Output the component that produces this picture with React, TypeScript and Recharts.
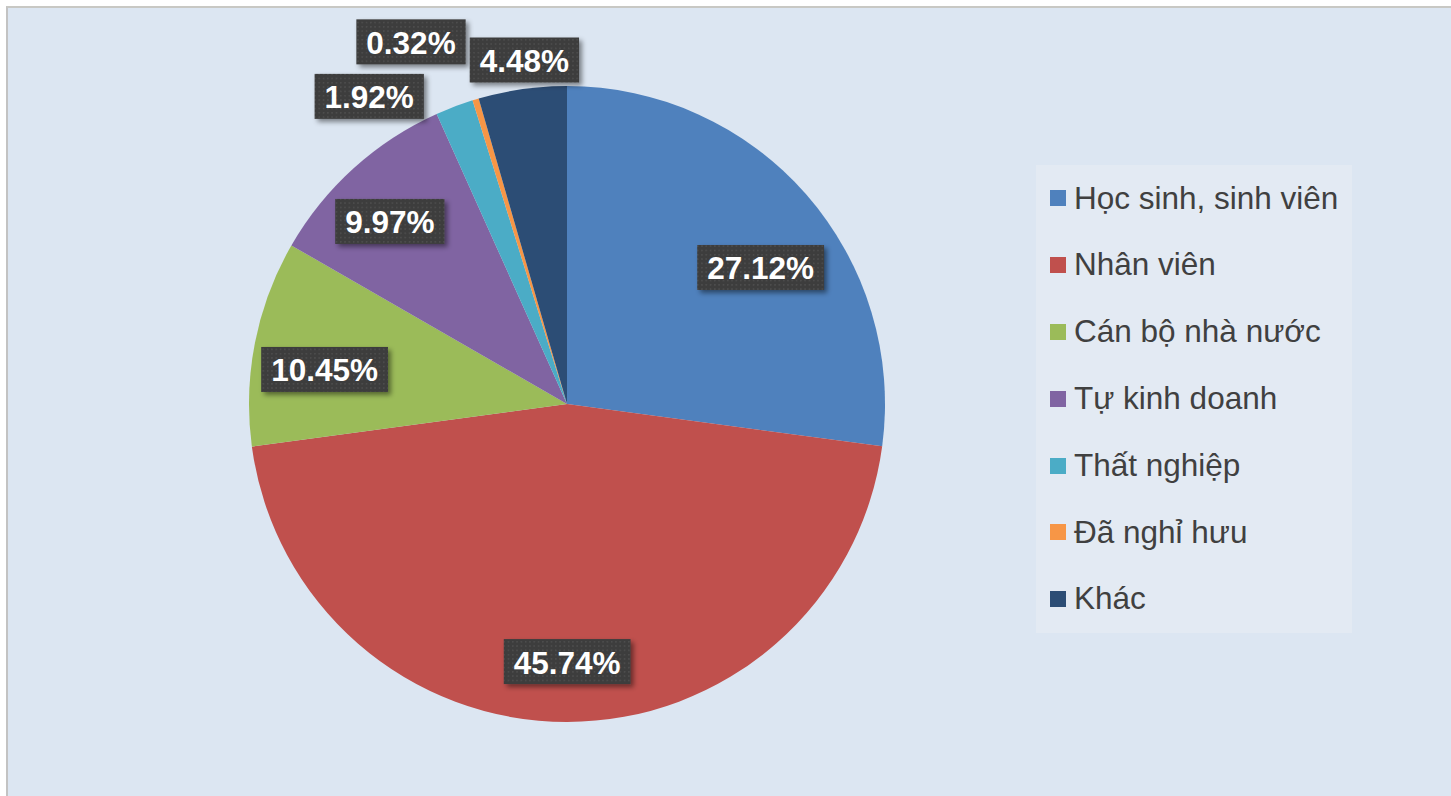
import { Cell, Legend, Pie, PieChart } from "recharts";

const categories = [
  "Học sinh, sinh viên",
  "Nhân viên",
  "Cán bộ nhà nước",
  "Tự kinh doanh",
  "Thất nghiệp",
  "Đã nghỉ hưu",
  "Khác",
];
const shares = [27.12, 45.74, 10.45, 9.97, 1.92, 0.32, 4.48];
const colors = ["#4f81bd", "#c0504d", "#9bbb59", "#8064a2", "#4bacc6", "#f79646", "#2c4d75"];

// label placement, relative to each slice's mid angle (clockwise degrees) and the pie radius
const labelShift = [6, 0, -3, -2, -12, -6.6, 1];
const labelRadius = [0.745, 0.81, 0.77, 0.8, 1.15, 1.24, 1.09];

const data = categories.map((name, i) => ({ name, value: shares[i] }));

const RAD = Math.PI / 180;
const FONT = "Arial, 'Liberation Sans', sans-serif";
const LABEL_SIZE = 31.5;

function textWidth(s: string) {
  let w = 0;
  for (const ch of s) {
    if (ch === ".") w += 0.278;
    else if (ch === "%") w += 0.889;
    else w += 0.556;
  }
  return w * LABEL_SIZE;
}

function renderLabel(props: any) {
  const { cx, cy, midAngle, outerRadius, index, value } = props;
  const clock = 90 - midAngle + labelShift[index];
  const r = outerRadius * labelRadius[index];
  const x = cx + r * Math.sin(clock * RAD);
  const y = cy - r * Math.cos(clock * RAD);
  const text = `${Number(value).toFixed(2)}%`;
  const w = textWidth(text) + 20;
  const h = 45;
  return (
    <g key={`lbl-${index}`}>
      <rect
        x={x - w / 2}
        y={y - h / 2}
        width={w}
        height={h}
        fill="url(#dotFill)"
        filter="url(#lblShadow)"
      />
      <text
        x={x}
        y={y + 1}
        textAnchor="middle"
        dominantBaseline="central"
        fill="#ffffff"
        fontFamily={FONT}
        fontWeight="bold"
        fontSize={LABEL_SIZE}
      >
        {text}
      </text>
    </g>
  );
}

// legend keeps the data order (Recharts would sort the payload by name)
function renderLegend() {
  return (
    <div
      style={{
        width: 316,
        height: 468,
        background: "#e3eaf3",
        boxSizing: "border-box",
        paddingLeft: 14,
      }}
    >
      {categories.map((name, i) => (
        <div key={name} style={{ height: 66.8, display: "flex", alignItems: "center" }}>
          <span
            style={{ width: 16, height: 16, background: colors[i], marginRight: 8, flex: "none" }}
          />
          <span
            style={{
              fontFamily: FONT,
              fontSize: 31.5,
              color: "#404040",
              whiteSpace: "nowrap",
              lineHeight: 1,
            }}
          >
            {name}
          </span>
        </div>
      ))}
    </div>
  );
}

export default function App() {
  return (
    <div
      style={{
        position: "absolute",
        left: 6,
        top: 6,
        width: 1445,
        height: 790,
        boxSizing: "border-box",
        borderLeft: "2px solid #c3c3c3",
        borderTop: "2px solid #c8c8c4",
        background: "#dce6f2",
        overflow: "hidden",
      }}
    >
      <svg width={0} height={0} style={{ position: "absolute" }}>
        <defs>
          <pattern id="dotFill" width={4.3} height={4.3} patternUnits="userSpaceOnUse">
            <rect width={4.3} height={4.3} fill="#3d3d3d" />
            <rect x={1} y={1} width={1.3} height={1.3} fill="#555555" />
          </pattern>
          <filter id="lblShadow" x="-20%" y="-30%" width="150%" height="180%">
            <feDropShadow dx={3} dy={3} stdDeviation={2.5} floodColor="#000" floodOpacity={0.45} />
          </filter>
        </defs>
      </svg>
      <PieChart width={1443} height={788} margin={{ top: 0, right: 0, bottom: 0, left: 0 }}>
        <Pie
          data={data}
          dataKey="value"
          nameKey="name"
          cx={559}
          cy={396}
          outerRadius={318}
          startAngle={90}
          endAngle={-270}
          stroke="none"
          label={renderLabel}
          labelLine={false}
          isAnimationActive={false}
        >
          {data.map((d, i) => (
            <Cell key={d.name} fill={colors[i]} />
          ))}
        </Pie>
        <Legend
          layout="vertical"
          align="right"
          verticalAlign="middle"
          content={renderLegend}
          wrapperStyle={{ position: "absolute", left: 1028, top: 157, width: 316, height: 468 }}
        />
      </PieChart>
    </div>
  );
}
